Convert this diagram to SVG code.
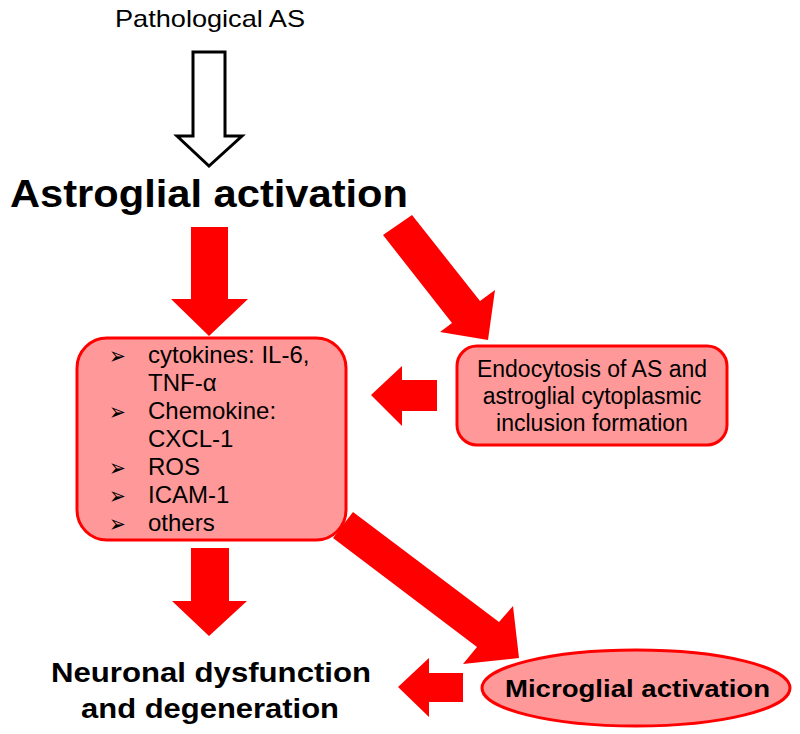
<svg xmlns="http://www.w3.org/2000/svg" width="800" height="734" viewBox="0 0 800 734">
<style>
.arr{fill:#ff0000;stroke:none}
.hollow{fill:#ffffff;stroke:#000000;stroke-width:3;stroke-linejoin:miter}
.box{fill:#ff9999;stroke:#ff0000;stroke-width:3}
.t{font-family:"Liberation Sans",Arial,sans-serif;fill:#000000}
.b{font-weight:bold}
.bul{font-family:"DejaVu Sans",sans-serif;font-size:20px;fill:#000000}
</style>
<rect width="800" height="734" fill="#ffffff"/>
<g id="connectors">
<polygon class="hollow" points="193,52 225,52 225,136 242,136 209,166 177,136 193,136"/>
<polygon class="arr" points="191,227 228,227 228,299 248,299 209,336 171,299 191,299"/>
<polygon class="arr" points="383,235 412,215 480,301 495,290 488,340 440,332 452,323"/>
<polygon class="arr" points="437,380 437,411 402,411 402,426 371,395 402,366 402,380"/>
<polygon class="arr" points="191,548 229,548 229,601 247,601 209,636 172,601 191,601"/>
<polygon class="arr" points="333,538 353,512 499,622 513,606 519,658 463,664 477,647"/>
<polygon class="arr" points="463,673 463,702 429,702 429,717 398,687 429,658 429,673"/>
</g>
<g id="pathological">
<text class="t" x="210" y="27" font-size="24" text-anchor="middle" textLength="190" lengthAdjust="spacingAndGlyphs">Pathological AS</text>
</g>
<g id="astroglial">
<text class="t b" x="10" y="207" font-size="38" textLength="398" lengthAdjust="spacingAndGlyphs">Astroglial activation</text>
</g>
<g id="mediators">
<rect class="box" x="77" y="338" width="269" height="202" rx="30" ry="30"/>
<text class="bul" transform="translate(109,364) scale(1,1.2)">➢</text>
<text class="t" x="148" y="363" font-size="24">cytokines: IL-6,</text>
<text class="t" x="148" y="391" font-size="24">TNF-α</text>
<text class="bul" transform="translate(109,420) scale(1,1.2)">➢</text>
<text class="t" x="148" y="419" font-size="24">Chemokine:</text>
<text class="t" x="148" y="447" font-size="24">CXCL-1</text>
<text class="bul" transform="translate(109,476) scale(1,1.2)">➢</text>
<text class="t" x="148" y="475" font-size="24">ROS</text>
<text class="bul" transform="translate(109,504) scale(1,1.2)">➢</text>
<text class="t" x="148" y="503" font-size="24">ICAM-1</text>
<text class="bul" transform="translate(109,532) scale(1,1.2)">➢</text>
<text class="t" x="148" y="531" font-size="24">others</text>
</g>
<g id="endocytosis">
<rect class="box" x="457" y="346" width="270" height="99" rx="20" ry="20"/>
<text class="t" x="592" y="377" font-size="23" text-anchor="middle">Endocytosis of AS and</text>
<text class="t" x="592" y="404" font-size="23" text-anchor="middle">astroglial cytoplasmic</text>
<text class="t" x="592" y="431" font-size="23" text-anchor="middle">inclusion formation</text>
</g>
<g id="neuronal">
<text class="t b" x="211" y="682" font-size="27" text-anchor="middle" textLength="320" lengthAdjust="spacingAndGlyphs">Neuronal dysfunction</text>
<text class="t b" x="210" y="718" font-size="27" text-anchor="middle" textLength="258" lengthAdjust="spacingAndGlyphs">and degeneration</text>
</g>
<g id="microglial">
<ellipse class="box" cx="636" cy="688" rx="154" ry="38"/>
<text class="t b" x="505" y="697" font-size="23" textLength="265" lengthAdjust="spacingAndGlyphs">Microglial  activation</text>
</g>
</svg>
